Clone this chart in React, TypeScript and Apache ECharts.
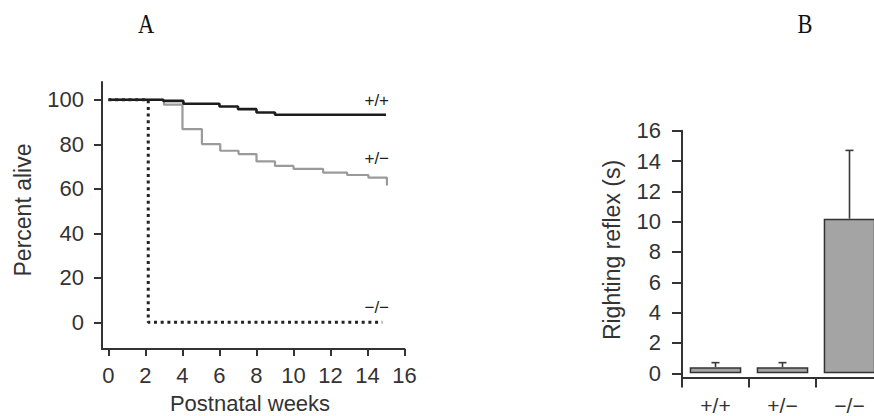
import React, { useEffect, useRef } from "react";
import * as echarts from "echarts";

// Panel A: survival (Kaplan–Meier style step curves)
const WEEKS_WT = [0, 2.96, 4.05, 6, 7, 8, 9, 15];
const ALIVE_WT = [100, 99.5, 98.2, 97, 95.8, 94.3, 93.3, 93.3];
const WEEKS_HET = [0, 3, 4, 5.05, 6.04, 7.03, 8, 9, 10, 11.6, 12.9, 14.05, 15.05];
const ALIVE_HET = [100, 97.8, 86.8, 80.1, 77.1, 75.6, 72.3, 70.3, 69, 67.3, 66.2, 65, 61.5];
const WEEKS_KO = [0, 2.15, 14.8];
const ALIVE_KO = [100, 0, 0];
const GENOTYPES = ["+/+", "+/\u2212", "\u2212/\u2212"];
const LABEL_WEEK = [14.5, 14.5, 14.5];
const LABEL_ALIVE = [99.6, 73.5, 6.6];
const X_TICKS_A = [0, 2, 4, 6, 8, 10, 12, 14, 16];
const Y_TICKS_A = [0, 20, 40, 60, 80, 100];

// Panel B: righting reflex
const REFLEX_MEAN = [0.4, 0.4, 10.2];
const REFLEX_UPPER = [0.7, 0.7, 14.7];
const Y_TICKS_B = [0, 2, 4, 6, 8, 10, 12, 14, 16];

const FONT = '"Liberation Sans", Arial, Helvetica, sans-serif';
const AX = "#333";

export default function App() {
  const ref = useRef<HTMLDivElement>(null);
  useEffect(() => {
    if (!ref.current) return;
    const chart = echarts.init(ref.current, null, { renderer: "svg" });
    const pair = (xs: number[], ys: number[]) => xs.map((x, i) => [x, ys[i]]);
    const lineSeries = (
      name: string,
      xs: number[],
      ys: number[],
      lineStyle: any,
      idx: number
    ) => ({
      type: "line",
      name,
      xAxisIndex: 0,
      yAxisIndex: 0,
      step: "end",
      symbol: "none",
      data: pair(xs, ys),
      lineStyle,
      itemStyle: { color: lineStyle.color },
      markPoint: {
        symbol: "rect",
        symbolSize: 1,
        itemStyle: { color: "rgba(0,0,0,0)" },
        label: {
          show: true,
          position: "inside",
          formatter: name,
          color: "#222",
          fontSize: 17,
          fontFamily: FONT,
        },
        data: [{ coord: [LABEL_WEEK[idx], LABEL_ALIVE[idx]] }],
      },
    });
    const option: any = {
      animation: false,
      backgroundColor: "#fff",
      textStyle: { fontFamily: FONT },
      grid: [
        { left: 102, top: 82, width: 302.5, height: 267 },
        { left: 682, top: 130.7, width: 201, height: 246.8 },
      ],
      xAxis: [
        {
          type: "value",
          gridIndex: 0,
          min: -0.35,
          max: 16,
          axisLine: { show: true, onZero: false, lineStyle: { color: AX, width: 2 } },
          axisTick: { show: true, length: 7, customValues: X_TICKS_A, lineStyle: { color: AX, width: 2 } },
          axisLabel: { customValues: X_TICKS_A, fontSize: 22, color: AX, margin: 15, fontFamily: FONT },
          splitLine: { show: false },
        },
        {
          type: "category",
          gridIndex: 1,
          data: GENOTYPES,
          axisLine: { show: true, onZero: false, lineStyle: { color: AX, width: 2 } },
          axisTick: { show: true, length: 10, lineStyle: { color: AX, width: 2 } },
          axisLabel: { fontSize: 21, color: AX, margin: 17, fontFamily: FONT },
        },
      ],
      yAxis: [
        {
          type: "value",
          gridIndex: 0,
          min: -12,
          max: 108,
          axisLine: { show: true, onZero: false, lineStyle: { color: AX, width: 2 } },
          axisTick: { show: true, length: 8, customValues: Y_TICKS_A, lineStyle: { color: AX, width: 2 } },
          axisLabel: { customValues: Y_TICKS_A, fontSize: 22, color: AX, margin: 18, fontFamily: FONT },
          splitLine: { show: false },
        },
        {
          type: "value",
          gridIndex: 1,
          min: -0.28,
          max: 16,
          axisLine: { show: true, onZero: false, lineStyle: { color: AX, width: 2 } },
          axisTick: { show: true, length: 10, customValues: Y_TICKS_B, lineStyle: { color: AX, width: 2 } },
          axisLabel: { customValues: Y_TICKS_B, fontSize: 22, color: AX, margin: 21, fontFamily: FONT },
          splitLine: { show: false },
        },
      ],
      series: [
        lineSeries(GENOTYPES[1], WEEKS_HET, ALIVE_HET, { color: "#9a9a9a", width: 2.2 }, 1),
        lineSeries(GENOTYPES[0], WEEKS_WT, ALIVE_WT, { color: "#1c1c1c", width: 2.6 }, 0),
        lineSeries(GENOTYPES[2], WEEKS_KO, ALIVE_KO, { color: "#222", width: 3, type: [3, 3.7] }, 2),
        {
          type: "bar",
          xAxisIndex: 1,
          yAxisIndex: 1,
          data: REFLEX_MEAN,
          barWidth: "77%",
          itemStyle: { color: "#a4a4a4", borderColor: "#333", borderWidth: 1.5 },
        },
        {
          type: "custom",
          xAxisIndex: 1,
          yAxisIndex: 1,
          data: REFLEX_MEAN.map((m, i) => [i, m, REFLEX_UPPER[i]]),
          renderItem: (params: any, api: any) => {
            const base = api.coord([api.value(0), api.value(1)]);
            const top = api.coord([api.value(0), api.value(2)]);
            const style = { stroke: "#3a3a3a", lineWidth: 1.6 };
            return {
              type: "group",
              children: [
                { type: "line", shape: { x1: base[0], y1: base[1], x2: top[0], y2: top[1] }, style },
                { type: "line", shape: { x1: top[0] - 4, y1: top[1], x2: top[0] + 4, y2: top[1] }, style },
              ],
            };
          },
          z: 3,
        },
      ],
      graphic: [
        {
          type: "text",
          x: 146,
          y: 23,
          scaleX: 0.8,
          style: { text: "A", font: '28px "Liberation Serif", "Times New Roman", serif', fill: "#111", align: "center", verticalAlign: "middle" },
        },
        {
          type: "text",
          x: 805,
          y: 23,
          scaleX: 0.8,
          style: { text: "B", font: '28px "Liberation Serif", "Times New Roman", serif', fill: "#111", align: "center", verticalAlign: "middle" },
        },
        {
          type: "text",
          x: 23,
          y: 210,
          rotation: Math.PI / 2,
          style: { text: "Percent alive", font: `23px ${FONT}`, fill: AX, align: "center", verticalAlign: "middle" },
        },
        {
          type: "text",
          x: 250,
          y: 403,
          style: { text: "Postnatal weeks", font: `22px ${FONT}`, fill: AX, align: "center", verticalAlign: "middle" },
        },
        {
          type: "text",
          x: 612,
          y: 250,
          rotation: Math.PI / 2,
          style: { text: "Righting reflex (s)", font: `23px ${FONT}`, fill: AX, align: "center", verticalAlign: "middle" },
        },
      ],
    };
    chart.setOption(option);
    return () => chart.dispose();
  }, []);
  return (
    <div
      style={{ position: "fixed", left: 0, top: 0, width: 874, height: 416, overflow: "hidden", background: "#fff" }}
    >
      <div ref={ref} style={{ width: 892, height: 416 }} />
    </div>
  );
}
